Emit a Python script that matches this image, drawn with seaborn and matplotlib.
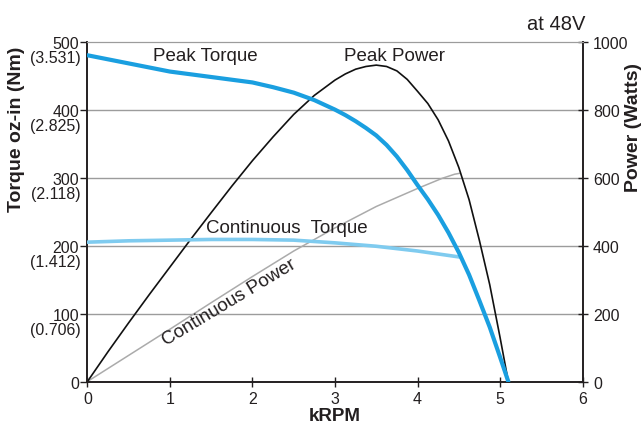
import matplotlib
matplotlib.use("Agg")
import matplotlib.pyplot as plt
import seaborn as sns
import pandas as pd
from matplotlib.transforms import blended_transform_factory

sns.set_style("ticks")
plt.rcParams['font.family'] = ['Liberation Sans', 'DejaVu Sans']

# ---- data ----
peak_torque_krpm = [0, 0.25, 0.5, 0.75, 1, 1.25, 1.5, 1.75, 2, 2.25, 2.5, 2.75, 3, 3.125,
                    3.25, 3.375, 3.5, 3.625, 3.75, 3.875, 4, 4.125, 4.25, 4.375, 4.5,
                    4.625, 4.75, 4.875, 5.0, 5.1]
peak_torque_ozin = [480, 474, 468, 462, 456, 452, 448, 444, 440, 433, 425, 414, 400, 392,
                    383, 373, 362, 348, 331, 311, 289, 268, 245, 219, 190,
                    157, 119, 80, 36, 0]

cont_torque_krpm = [0, 0.5, 1, 1.5, 2, 2.5, 3, 3.5, 4, 4.52]
cont_torque_ozin = [205, 207, 208, 209, 209, 208, 204, 199, 192, 183]

peak_power_krpm = [0, 0.25, 0.5, 0.75, 1, 1.25, 1.5, 1.75, 2, 2.25, 2.5, 2.75, 3, 3.125,
                   3.25, 3.375, 3.5, 3.625, 3.75, 3.875, 4, 4.125, 4.25, 4.375, 4.5,
                   4.625, 4.75, 4.875, 5.0, 5.1]
peak_power_w = [0, 88, 173, 256, 337, 418, 497, 575, 650, 720, 786, 842, 887, 905,
                919, 927, 931, 927, 914, 889, 854, 818, 770, 708, 630,
                535, 415, 285, 130, 0]

cont_power_krpm = [0, 0.5, 1, 1.5, 2, 2.5, 3, 3.5, 4, 4.3, 4.45, 4.52]
cont_power_w = [0, 77, 154, 232, 309, 384, 452, 515, 568, 598, 610, 613]

x_ticks = [0, 1, 2, 3, 4, 5, 6]
torque_ticks = [0, 100, 200, 300, 400, 500]
torque_nm_labels = ["", "(0.706)", "(1.412)", "(2.118)", "(2.825)", "(3.531)"]
power_ticks = [0, 200, 400, 600, 800, 1000]

INK = "#231f20"

# ---- figure ----
fig = plt.figure(figsize=(6.43, 4.31), dpi=100)
ax = fig.add_axes([0.136, 0.1125, 0.770, 0.7885])
ax2 = ax.twinx()

pt = pd.DataFrame({"x": peak_torque_krpm, "y": peak_torque_ozin})
ct = pd.DataFrame({"x": cont_torque_krpm, "y": cont_torque_ozin})
pp = pd.DataFrame({"x": peak_power_krpm, "y": peak_power_w})
cp = pd.DataFrame({"x": cont_power_krpm, "y": cont_power_w})

for y in torque_ticks[1:-1]:
    ax2.axhline(y * 2, color="#9c9c9c", lw=1.0, zorder=0)

sns.lineplot(data=cp, x="x", y="y", ax=ax2, color="#ababab", lw=1.1, sort=False, zorder=1)
sns.lineplot(data=pp, x="x", y="y", ax=ax2, color="#111111", lw=1.2, sort=False, zorder=2)
sns.lineplot(data=ct, x="x", y="y", ax=ax, color="#7fcbef", lw=2.6, sort=False, zorder=3)
sns.lineplot(data=pt, x="x", y="y", ax=ax, color="#1a9fe0", lw=3.0, sort=False, zorder=4)

ax.set_zorder(2)
ax.patch.set_visible(False)

ax.set_xlim(0, 6)
ax.set_ylim(0, 500)
ax2.set_ylim(0, 1000)
ax.set_xticks(x_ticks)
ax.set_xticklabels([str(v) for v in x_ticks], fontsize=11.5, color=INK)
ax.set_yticks(torque_ticks)
ax.set_yticklabels([str(v) for v in torque_ticks], fontsize=11.5, color=INK)
ax2.set_yticks(power_ticks)
ax2.set_yticklabels([str(v) for v in power_ticks], fontsize=11.5, color=INK)

trans = blended_transform_factory(ax.transAxes, ax.transData)
for v, lab in zip(torque_ticks, torque_nm_labels):
    if lab:
        ax.text(-0.013, v - 23, lab, transform=trans, ha="right", va="center",
                fontsize=11.5, color=INK)

ax.tick_params(axis="y", direction="out", length=5, width=1, pad=1, colors=INK)
ax.tick_params(axis="x", direction="inout", length=7, width=1, pad=3, colors=INK)
ax2.tick_params(axis="y", direction="inout", length=7, width=1, pad=4, colors=INK)

for a in (ax, ax2):
    a.spines["top"].set_color("#9c9c9c")
    a.spines["top"].set_visible(True)
    for s in ("left", "right", "bottom"):
        a.spines[s].set_color(INK)
        a.spines[s].set_linewidth(1.2)
        a.spines[s].set_visible(True)

ax.set_xlabel("kRPM", fontsize=13.5, fontweight="bold", color=INK)
ax.xaxis.set_label_coords(0.5, -0.074)
ax.set_ylabel("Torque oz-in (Nm)", fontsize=14, fontweight="bold", color=INK, va="center")
ax.yaxis.set_label_coords(-0.143, 0.745)
ax2.set_ylabel("Power (Watts)", fontsize=14, fontweight="bold", color=INK, va="center",
               rotation=90)
ax2.yaxis.set_label_coords(1.103, 0.75)

ax.text(1.43, 479, "Peak Torque", ha="center", va="center", fontsize=13.5, color=INK)
ax.text(3.72, 479, "Peak Power", ha="center", va="center", fontsize=13.5, color=INK)
ax.text(2.41, 226, "Continuous  Torque", ha="center", va="center", fontsize=13.5, color=INK)
ax.text(1.72, 117, "Continuous Power", ha="center", va="center", fontsize=13.5,
        color=INK, rotation=31, rotation_mode="anchor")

fig.text(585 / 643, 1 - 25 / 431, "at 48V", ha="right", va="center", fontsize=14.5, color=INK)

fig.savefig("out.png", dpi=100)
